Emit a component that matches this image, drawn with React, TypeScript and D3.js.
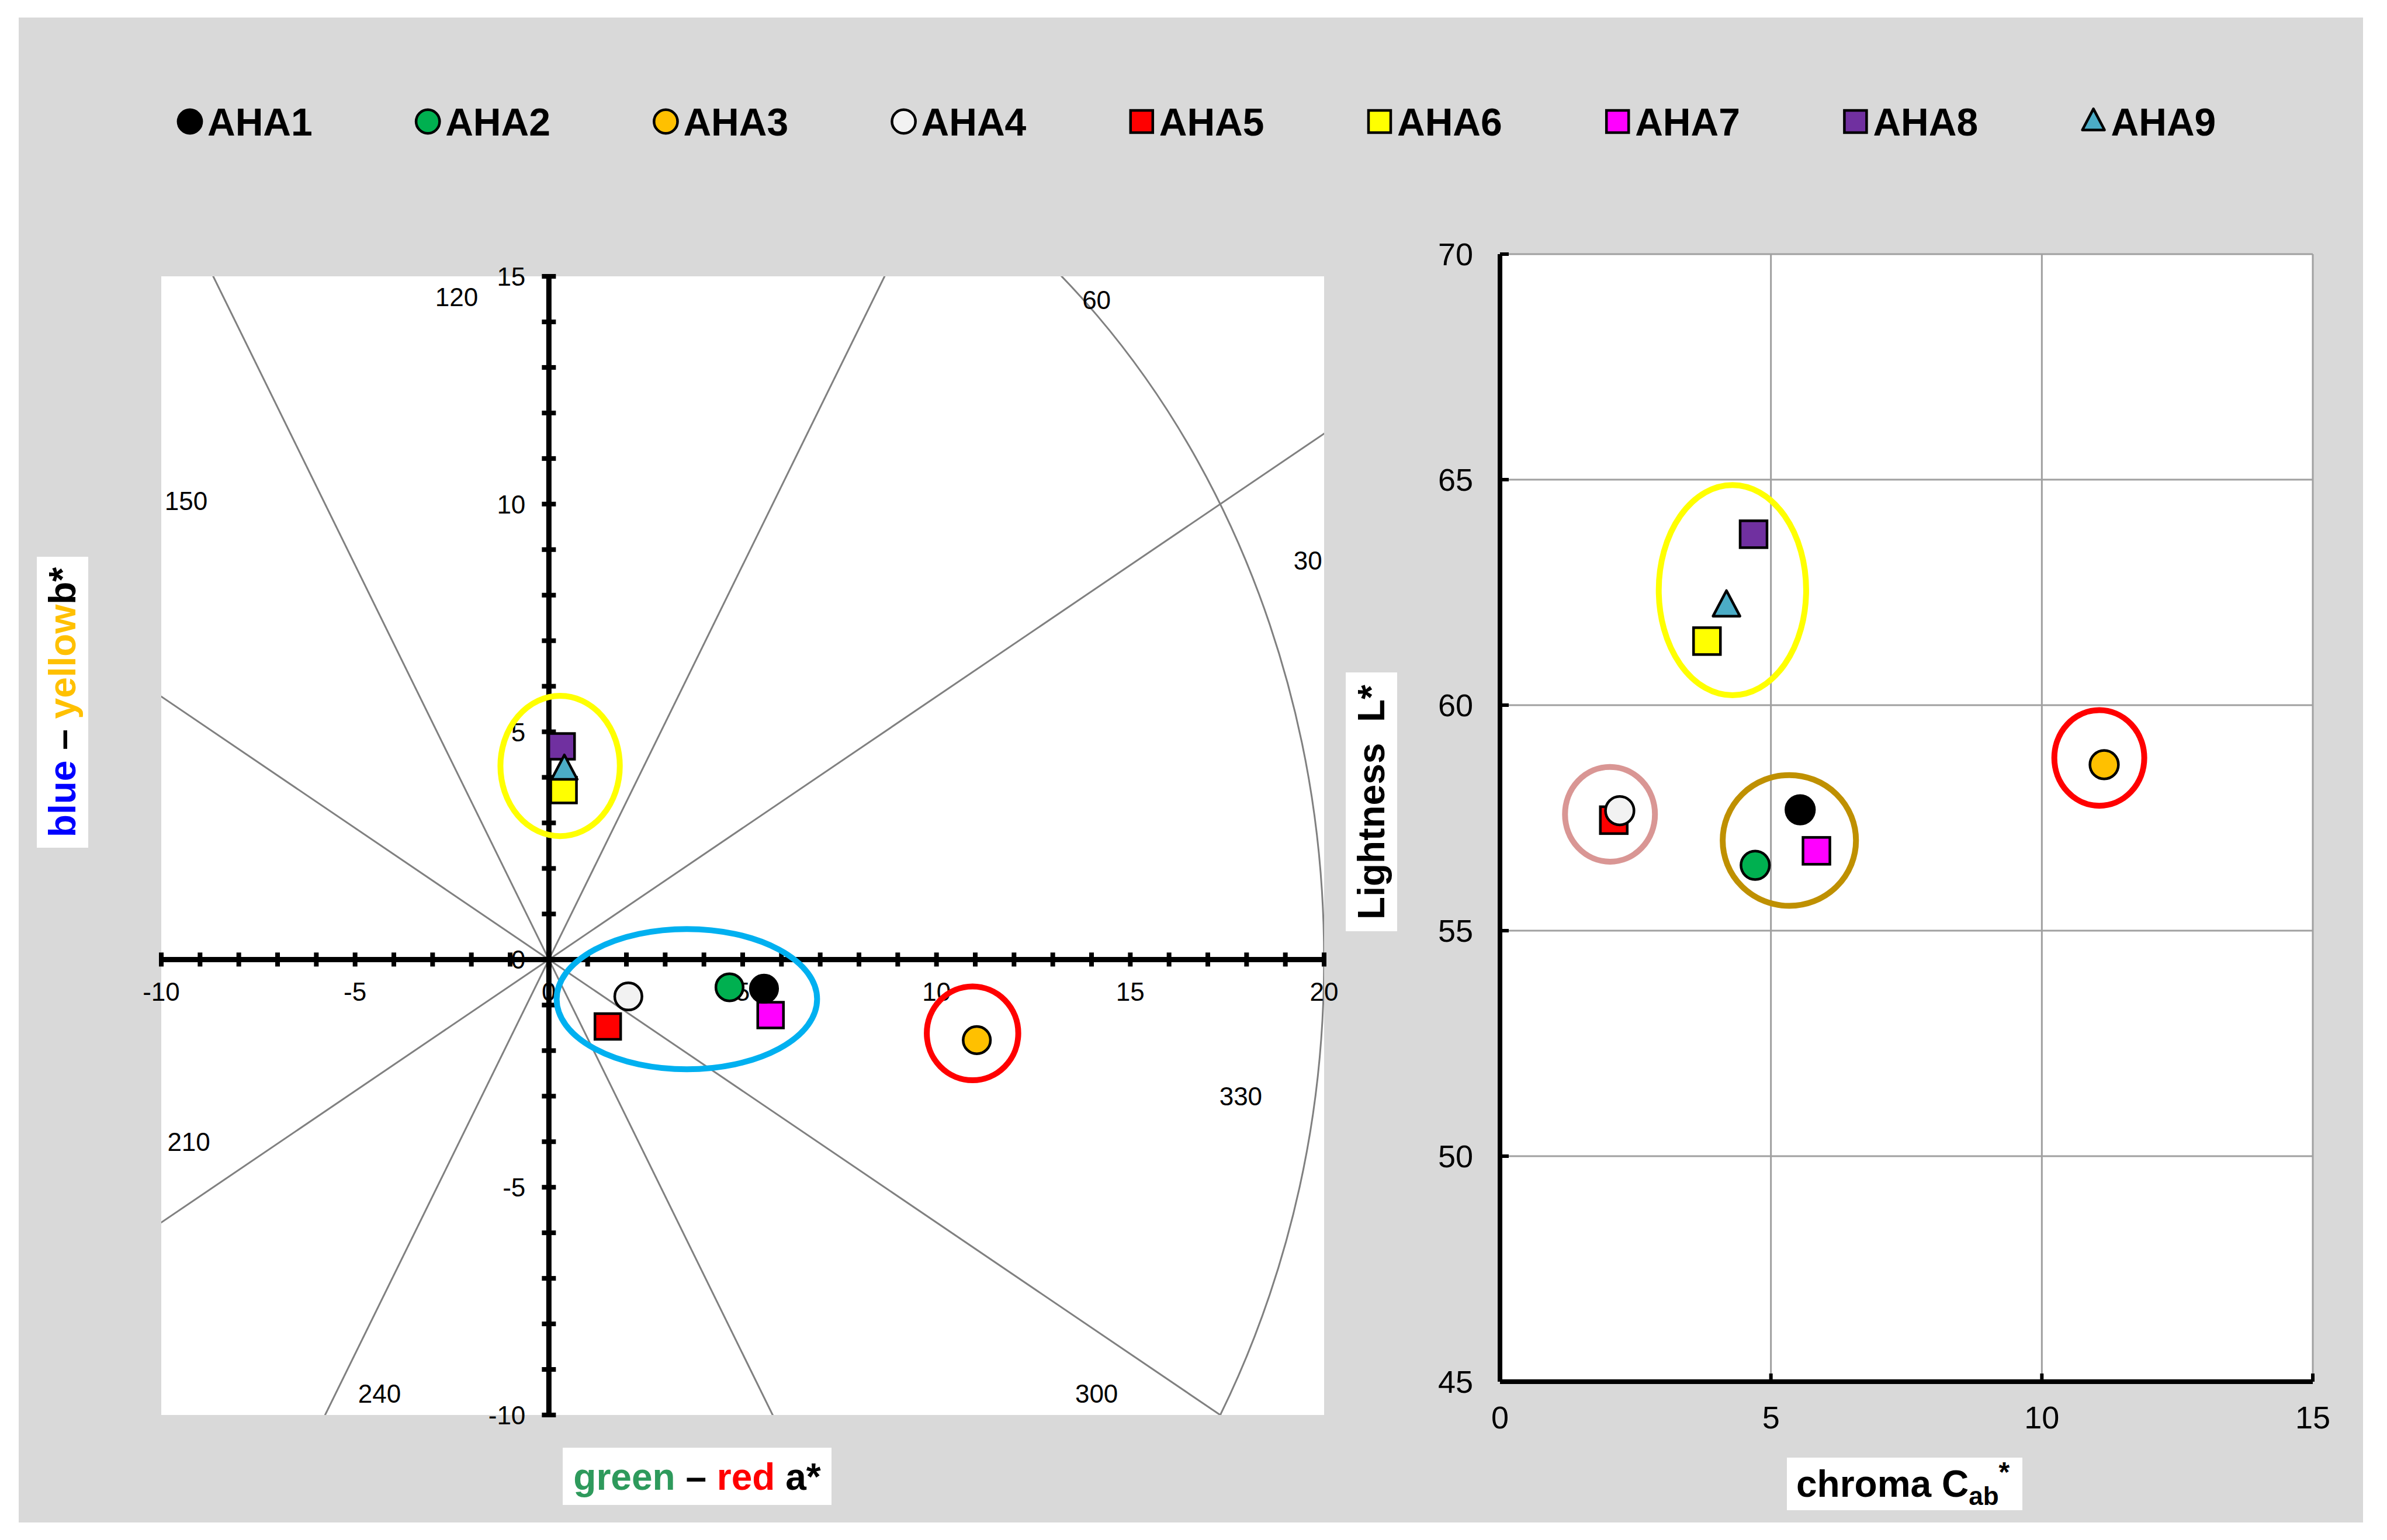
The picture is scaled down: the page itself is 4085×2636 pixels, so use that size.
import React from 'react';
import * as d3 from 'd3';

// ---------- data ----------
const seriesNames = ['AHA1', 'AHA2', 'AHA3', 'AHA4', 'AHA5', 'AHA6', 'AHA7', 'AHA8', 'AHA9'];
const seriesFill = ['#000000', '#00b050', '#ffc000', '#f2f2f2', '#ff0000', '#ffff00', '#ff00ff', '#7030a0', '#4bacc6'];
const seriesShape = ['circle', 'circle', 'circle', 'circle', 'square', 'square', 'square', 'square', 'triangle'];
const aStar = [5.55, 4.66, 11.04, 2.05, 1.52, 0.38, 5.72, 0.33, 0.40];
const bStar = [-0.64, -0.61, -1.77, -0.81, -1.47, 3.72, -1.22, 4.68, 4.17];
const chroma = [5.54, 4.71, 11.15, 2.21, 2.10, 3.82, 5.84, 4.68, 4.18];
const lightness = [57.68, 56.45, 58.68, 57.66, 57.45, 61.42, 56.77, 63.79, 62.2];
const drawOrder = [4, 5, 6, 7, 0, 1, 2, 3, 8];

const aTicks = [-10, -5, 0, 5, 10, 15, 20];
const bTicks = [-10, -5, 0, 5, 10, 15];
const cTicks = [0, 5, 10, 15];
const lTicks = [45, 50, 55, 60, 65, 70];

const hueAngles = [30, 60, 120, 150, 210, 240, 300, 330];
const hueLabelA = [19.58, 14.13, -2.38, -9.36, -9.29, -4.37, 14.13, 17.85];
const hueLabelB = [8.77, 14.49, 14.55, 10.07, -4.0, -9.52, -9.52, -3.0];
const chromaCircle = 20;

// annotation ellipses (data units)
const abEllipses = [
  { a: 0.29, b: 4.25, ra: 1.54, rb: 1.54, color: '#ffff00' },
  { a: 3.56, b: -0.87, ra: 3.36, rb: 1.54, color: '#00b0f0' },
  { a: 10.93, b: -1.62, ra: 1.18, rb: 1.03, color: '#ff0000' },
];
const clEllipses = [
  { c: 4.29, l: 62.55, rc: 1.36, rl: 2.33, color: '#ffff00' },
  { c: 2.03, l: 57.58, rc: 0.83, rl: 1.05, color: '#d99694' },
  { c: 5.34, l: 57.0, rc: 1.23, rl: 1.45, color: '#bf9000' },
  { c: 11.06, l: 58.83, rc: 0.83, rl: 1.06, color: '#ff0000' },
];

const FONT = "'Liberation Sans', Arial, sans-serif";

function Marker({ shape, x, y, fill, size }: { shape: string; x: number; y: number; fill: string; size: number }) {
  if (shape === 'circle') {
    return <circle cx={x} cy={y} r={(size * 1.06) / 2} fill={fill} stroke="#000" strokeWidth={4.5} />;
  }
  if (shape === 'square') {
    return <rect x={x - size / 2} y={y - size / 2} width={size} height={size} fill={fill} stroke="#000" strokeWidth={4.5} />;
  }
  const h = size * 0.95;
  const w = size * 1.0;
  const pts = [
    [x, y - h * 0.6],
    [x + w / 2, y + h * 0.4],
    [x - w / 2, y + h * 0.4],
  ];
  return <polygon points={pts.map((p) => p.join(',')).join(' ')} fill={fill} stroke="#000" strokeWidth={4.5} strokeLinejoin="round" />;
}

export default function App() {
  const W = 4085;
  const H = 2636;

  // left plot scales
  const xA = d3.scaleLinear().domain([-10, 20]).range([276, 2266]);
  const yB = d3.scaleLinear().domain([-10, 15]).range([2422, 473]);
  // right plot scales
  const xC = d3.scaleLinear().domain([0, 15]).range([2567, 3958]);
  const yL = d3.scaleLinear().domain([45, 70]).range([2365, 435]);

  const minorA = d3.range(-10, 21, 1);
  const minorB = d3.range(-10, 16, 1);

  const legendX0 = 325;
  const legendStep = 407.2;
  const legendY = 208;

  return (
    <svg width={W} height={H} style={{ position: 'absolute', left: 0, top: 0 }} fontFamily={FONT}>
      <defs>
        <clipPath id="abclip">
          <rect x={xA(-10)} y={yB(15)} width={xA(20) - xA(-10)} height={yB(-10) - yB(15)} />
        </clipPath>
      </defs>
      <rect x={0} y={0} width={W} height={H} fill="#ffffff" />
      <rect x={32} y={30} width={4012} height={2576} fill="#d9d9d9" />

      {/* legend */}
      {seriesNames.map((name, i) => {
        const cx = legendX0 + i * legendStep;
        return (
          <g key={name}>
            <Marker shape={seriesShape[i]} x={cx} y={legendY} fill={seriesFill[i]} size={38} />
            <text x={cx + 30} y={legendY + 24} fontSize={66} fontWeight="bold" fill="#000">
              {name}
            </text>
          </g>
        );
      })}

      {/* ---------- left plot: a*-b* ---------- */}
      <rect x={xA(-10)} y={yB(15)} width={xA(20) - xA(-10)} height={yB(-10) - yB(15)} fill="#ffffff" />
      <g clipPath="url(#abclip)">
        {hueAngles.map((ang) => {
          const t = (ang * Math.PI) / 180;
          return (
            <line
              key={ang}
              x1={xA(0)}
              y1={yB(0)}
              x2={xA(80 * Math.cos(t))}
              y2={yB(80 * Math.sin(t))}
              stroke="#808080"
              strokeWidth={3}
            />
          );
        })}
        <ellipse
          cx={xA(0)}
          cy={yB(0)}
          rx={xA(chromaCircle) - xA(0)}
          ry={yB(0) - yB(chromaCircle)}
          fill="none"
          stroke="#808080"
          strokeWidth={3}
        />
      </g>
      {hueAngles.map((ang, i) => (
        <text key={'hl' + ang} x={xA(hueLabelA[i])} y={yB(hueLabelB[i]) + 16} fontSize={44} textAnchor="middle" fill="#000">
          {ang}
        </text>
      ))}
      {/* axes */}
      <line x1={xA(-10)} x2={xA(20)} y1={yB(0)} y2={yB(0)} stroke="#000" strokeWidth={9} />
      <line x1={xA(0)} x2={xA(0)} y1={yB(-10)} y2={yB(15)} stroke="#000" strokeWidth={9} />
      {minorA.map((v) => (
        <line key={'ta' + v} x1={xA(v)} x2={xA(v)} y1={yB(0) - 12} y2={yB(0) + 12} stroke="#000" strokeWidth={8} />
      ))}
      {minorB.map((v) => (
        <line key={'tb' + v} x1={xA(0) - 12} x2={xA(0) + 12} y1={yB(v)} y2={yB(v)} stroke="#000" strokeWidth={8} />
      ))}
      {aTicks.map((v) => (
        <text key={'la' + v} x={xA(v)} y={yB(0) + 71} fontSize={44} textAnchor="middle" fill="#000">
          {v}
        </text>
      ))}
      {bTicks.map((v) => (
        <text key={'lb' + v} x={xA(0) - 40} y={yB(v) + 16} fontSize={44} textAnchor="end" fill="#000">
          {v}
        </text>
      ))}
      {/* annotation ellipses */}
      {abEllipses.map((e, i) => (
        <ellipse
          key={'ae' + i}
          cx={xA(e.a)}
          cy={yB(e.b)}
          rx={xA(e.a + e.ra) - xA(e.a)}
          ry={yB(e.b) - yB(e.b + e.rb)}
          fill="none"
          stroke={e.color}
          strokeWidth={10}
        />
      ))}
      {drawOrder.map((i) => (
        <Marker key={'pab' + i} shape={seriesShape[i]} x={xA(aStar[i])} y={yB(bStar[i])} fill={seriesFill[i]} size={44} />
      ))}

      {/* axis titles left */}
      <rect x={63} y={953} width={88} height={498} fill="#ffffff" />
      <text transform={`translate(129,1202) rotate(-90)`} fontSize={64} fontWeight="bold" textAnchor="middle">
        <tspan fill="#0000ff">blue</tspan>
        <tspan fill="#000"> – </tspan>
        <tspan fill="#ffc000">yellow</tspan>
        <tspan fill="#000">b*</tspan>
      </text>
      <rect x={963} y={2478} width={460} height={98} fill="#ffffff" />
      <text x={1193} y={2550} fontSize={64} fontWeight="bold" textAnchor="middle">
        <tspan fill="#2e9a5c">green</tspan>
        <tspan fill="#000"> – </tspan>
        <tspan fill="#ff0000">red</tspan>
        <tspan fill="#000"> a*</tspan>
      </text>

      {/* ---------- right plot: C-L ---------- */}
      <rect x={xC(0)} y={yL(70)} width={xC(15) - xC(0)} height={yL(45) - yL(70)} fill="#ffffff" />
      {cTicks.filter((v) => v > 0).map((v) => (
        <line key={'gc' + v} x1={xC(v)} x2={xC(v)} y1={yL(45)} y2={yL(70)} stroke="#a0a0a0" strokeWidth={3} />
      ))}
      {lTicks.filter((v) => v > 45).map((v) => (
        <line key={'gl' + v} x1={xC(0)} x2={xC(15)} y1={yL(v)} y2={yL(v)} stroke="#a0a0a0" strokeWidth={3} />
      ))}
      <line x1={xC(0)} x2={xC(0)} y1={yL(45)} y2={yL(70)} stroke="#000" strokeWidth={8} />
      <line x1={xC(0)} x2={xC(15)} y1={yL(45)} y2={yL(45)} stroke="#000" strokeWidth={8} />
      {lTicks.map((v) => (
        <line key={'tl' + v} x1={xC(0)} x2={xC(0) + 15} y1={yL(v)} y2={yL(v)} stroke="#000" strokeWidth={6} />
      ))}
      {cTicks.map((v) => (
        <line key={'tc' + v} x1={xC(v)} x2={xC(v)} y1={yL(45)} y2={yL(45) - 14} stroke="#000" strokeWidth={6} />
      ))}
      {lTicks.map((v) => (
        <text key={'ll' + v} x={xC(0) - 46} y={yL(v) + 19} fontSize={54} textAnchor="end" fill="#000">
          {v}
        </text>
      ))}
      {cTicks.map((v) => (
        <text key={'lc' + v} x={xC(v)} y={yL(45) + 80} fontSize={54} textAnchor="middle" fill="#000">
          {v}
        </text>
      ))}
      {clEllipses.map((e, i) => (
        <ellipse
          key={'ce' + i}
          cx={xC(e.c)}
          cy={yL(e.l)}
          rx={xC(e.c + e.rc) - xC(e.c)}
          ry={yL(e.l) - yL(e.l + e.rl)}
          fill="none"
          stroke={e.color}
          strokeWidth={10}
        />
      ))}
      {drawOrder.map((i) => (
        <Marker key={'pcl' + i} shape={seriesShape[i]} x={xC(chroma[i])} y={yL(lightness[i])} fill={seriesFill[i]} size={46} />
      ))}

      {/* axis titles right */}
      <rect x={2303} y={1151} width={88} height={443} fill="#ffffff" />
      <text transform={`translate(2369,1373) rotate(-90)`} fontSize={64} fontWeight="bold" textAnchor="middle" fill="#000" xmlSpace="preserve">
        Lightness  L*
      </text>
      <rect x={3058} y={2495} width={403} height={90} fill="#ffffff" />
      <text x={3074} y={2562} fontSize={64} fontWeight="bold" fill="#000">
        <tspan>chroma C</tspan>
        <tspan fontSize={44} dy={14}>ab</tspan>
        <tspan fontSize={48} dy={-40}>*</tspan>
      </text>
    </svg>
  );
}
